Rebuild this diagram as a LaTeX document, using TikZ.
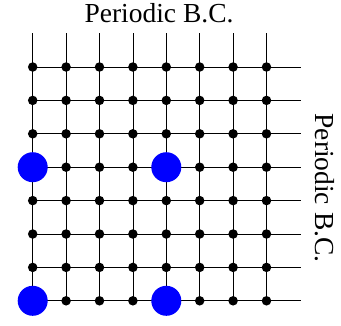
\documentclass[tikz,border=0pt]{standalone}
\usepackage{fontspec}
\setmainfont{Liberation Serif}
\usetikzlibrary{positioning}
\tikzset{
  site/.style={circle, fill=black, inner sep=0pt, minimum size=9.5pt},
  bsite/.style={circle, fill=blue, inner sep=0pt, minimum size=30pt},
  glin/.style={line width=0.8pt, black},
  bclbl/.style={font=\fontsize{27.5}{32}\selectfont, inner sep=0pt},
}

\begin{document}
\begin{tikzpicture}[x=1pt, y=-1pt]
        \useasboundingbox (0,0) rectangle (341,325);
        % lattice sites and loose ends of the periodic bonds
        \foreach \i in {0,...,7}{
            \coordinate (top-\i) at (32.7+33.4*\i, 33.4);
            \coordinate (rgt-\i) at (300.5, 67+33.4*\i);
            \foreach \j in {0,...,7}
                \coordinate (s-\i-\j) at (32.7+33.4*\i, 67+33.4*\j);
        }
        \foreach \i in {0,...,7}{
            \draw[glin](top-\i)--(s-\i-7);
            \draw[glin](s-0-\i)--(rgt-\i);
        }
        \foreach \i in {0,...,7}
            \foreach \j in {0,...,7}
                \node[site] (n-\i-\j) at (s-\i-\j) {};
        \node[bsite] (b1) at (s-0-3) {};
        \node[bsite] (b2) at (s-4-3) {};
        \node[bsite] (b3) at (s-0-7) {};
        \node[bsite] (b4) at (s-4-7) {};
        \node[bclbl] (pbctop) at (159,13.5) {Periodic B.C.};
        \node[bclbl, rotate=-90] (pbcright) at (325,188) {Periodic B.C.};
    \end{tikzpicture}
\end{document}
